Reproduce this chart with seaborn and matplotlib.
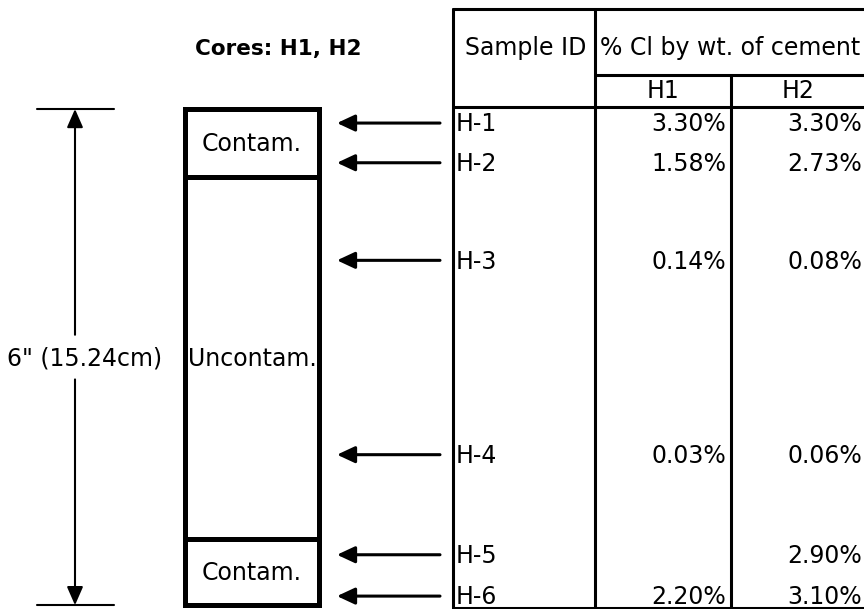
import matplotlib
matplotlib.use("Agg")
import matplotlib.pyplot as plt
from matplotlib.patches import Rectangle
import seaborn as sns

# sample data (depth in inches from the top of the 6" core)
sample_ids = ["H-1", "H-2", "H-3", "H-4", "H-5", "H-6"]
sample_depth = [0.17, 0.65, 1.83, 4.18, 5.39, 5.89]
cl_h1 = [3.30, 1.58, 0.14, 0.03, None, 2.20]
cl_h2 = [3.30, 2.73, 0.08, 0.06, 2.90, 3.10]

# core zones
zone_labels = ["Contam.", "Uncontam.", "Contam."]
zone_top = [0.0, 0.82, 5.20]
zone_bottom = [0.82, 5.20, 6.0]
core_length = 6.0
core_label = '6" (15.24cm)'

sns.set_theme(style="white")
plt.rcParams["font.family"] = ["DejaVu Sans"]

fig = plt.figure(figsize=(8.64, 6.09), dpi=100)
ax = fig.add_axes([0, 0, 1, 1])
ax.set_xlim(0, 864)
ax.set_ylim(6.046, -1.318)
ax.axis("off")

FS = 17
BASE = 0.10  # baseline shift so caps sit centred on a row


def label(x, y, s, ha="left", **kw):
    ax.text(x, y + BASE, s, ha=ha, va="baseline", fontsize=FS, color="black", **kw)


# core column
core_l, core_r = 184.5, 318.5
ax.add_patch(Rectangle((core_l, 0), core_r - core_l, core_length, fill=False,
                       lw=3.6, ec="black", joinstyle="miter", zorder=3))
for top, bot, name in zip(zone_top, zone_bottom, zone_labels):
    if top > 0:
        ax.plot([core_l, core_r], [top, top], color="black", lw=3.6, zorder=3)
    mid = (top + bot) / 2
    if name == "Uncontam.":
        label(188, mid, name)
    else:
        label((core_l + core_r) / 2, mid, name, ha="center")

ax.text(278, -0.75 + BASE, "Cores: H1, H2", ha="center", va="baseline",
        fontsize=15.5, fontweight="bold", color="black")

# dimension line
dim_x = 75
for y in [0, core_length]:
    ax.plot([37, 114], [y, y], color="black", lw=1.5)
arrow_kw = dict(arrowstyle="-|>,head_length=0.8,head_width=0.35", color="black",
                lw=1.5, shrinkA=0, shrinkB=0, mutation_scale=14)
ax.annotate("", xy=(dim_x, 0), xytext=(dim_x, core_length / 2 - 0.27), arrowprops=arrow_kw)
ax.annotate("", xy=(dim_x, core_length), xytext=(dim_x, core_length / 2 + 0.27), arrowprops=arrow_kw)
label(85, core_length / 2, core_label, ha="center")

# sample arrows
pt_kw = dict(arrowstyle="-|>,head_length=0.9,head_width=0.42", color="black",
             lw=2.2, shrinkA=0, shrinkB=0, mutation_scale=12)
for d in sample_depth:
    ax.annotate("", xy=(337, d), xytext=(440, d), arrowprops=pt_kw)

# table grid
t_top, t_mid, t_head, t_bot = -1.209, -0.411, -0.024, 6.03
x_l, x_c1, x_c2, x_r = 453, 595, 731, 864
lw_t = 2.2
ax.plot([x_l, x_r], [t_top, t_top], color="black", lw=lw_t)
ax.plot([x_c1, x_r], [t_mid, t_mid], color="black", lw=lw_t)
ax.plot([x_l, x_r], [t_head, t_head], color="black", lw=lw_t)
ax.plot([x_l, x_r], [t_bot, t_bot], color="black", lw=lw_t)
ax.plot([x_l, x_l], [t_top, t_bot], color="black", lw=lw_t)
ax.plot([x_c1, x_c1], [t_top, t_bot], color="black", lw=lw_t)
ax.plot([x_c2, x_c2], [t_mid, t_bot], color="black", lw=lw_t)

label(526, -0.75, "Sample ID", ha="center")
label(600, -0.75, "% Cl by wt. of cement")
label(663, -0.23, "H1", ha="center")
label(798, -0.23, "H2", ha="center")

for sid, d, v1, v2 in zip(sample_ids, sample_depth, cl_h1, cl_h2):
    label(456, d, sid)
    if v1 is not None:
        label(726, d, f"{v1:.2f}%", ha="right")
    if v2 is not None:
        label(862, d, f"{v2:.2f}%", ha="right")

fig.savefig("out.png", dpi=100, facecolor="white")
plt.close(fig)
